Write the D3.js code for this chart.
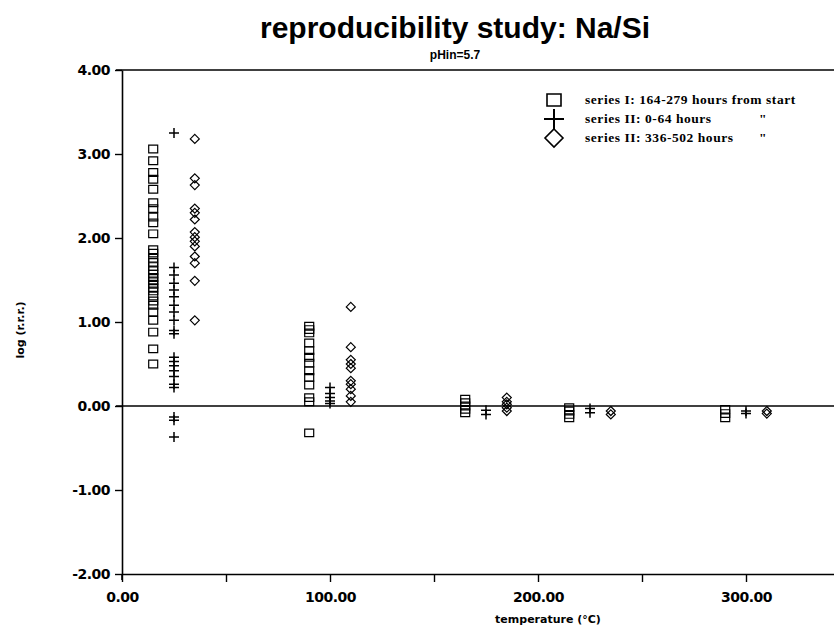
<!DOCTYPE html>
<html>
<head>
<meta charset="utf-8">
<script src="https://cdn.jsdelivr.net/npm/d3@7"></script>
<style>
body { margin: 0; background: #fff; }
</style>
</head>
<body>
<script>
// data (temperature in C, log r.r.r.)
const series_I_temps = [15, 90, 165, 215, 290]
const series_I_values = [
    [3.06, 2.92, 2.78, 2.70, 2.58, 2.42, 2.35, 2.25, 2.18, 2.05, 1.86, 1.82, 1.76, 1.71, 1.66, 1.61, 1.57, 1.53, 1.49, 1.45, 1.41, 1.37, 1.31, 1.25, 1.20, 1.12, 1.02, 0.88, 0.68, 0.50],
    [0.95, 0.91, 0.87, 0.75, 0.66, 0.58, 0.51, 0.42, 0.34, 0.25, 0.10, 0.05, -0.32],
    [0.08, 0.04, 0.00, -0.04, -0.08],
    [-0.02, -0.06, -0.10, -0.14],
    [-0.04, -0.09, -0.14]
]
const series_II_temps = [25, 100, 175, 225, 300]
const series_II_values = [
    [3.25, 1.65, 1.56, 1.46, 1.38, 1.30, 1.20, 1.12, 1.02, 0.90, 0.86, 0.58, 0.53, 0.48, 0.42, 0.35, 0.26, 0.22, -0.13, -0.17, -0.37],
    [0.22, 0.15, 0.10, 0.06, 0.03],
    [-0.05, -0.10],
    [-0.03, -0.08],
    [-0.06, -0.09]
]
const series_III_temps = [35, 110, 185, 235, 310]
const series_III_values = [
    [3.18, 2.71, 2.63, 2.35, 2.30, 2.22, 2.07, 2.01, 1.96, 1.90, 1.78, 1.70, 1.49, 1.02],
    [1.18, 0.70, 0.55, 0.50, 0.45, 0.30, 0.26, 0.20, 0.12, 0.05],
    [0.10, 0.05, 0.02, -0.02, -0.06],
    [-0.06, -0.10],
    [-0.06, -0.09]
]
const y_ticks = [-2, -1, 0, 1, 2, 3, 4]
const x_ticks = [0, 50, 100, 150, 200, 250, 300, 350]
const legend_labels = [
    'series I: 164-279 hours from start',
    'series II: 0-64 hours',
    'series II: 336-502 hours'
]

const width = 834, height = 640
const sans = "'DejaVu Sans', sans-serif"
const serif = "'Liberation Serif', serif"

function flatten(temps, values) {
    return temps.flatMap((t, i) => values[i].map(v => ({'t': t, 'v': v})))
}

const svg = d3.select('body').append('svg')
    .attr('width', width)
    .attr('height', height)
    .style('background', '#fff')

const x = d3.scaleLinear().domain([0, 350]).range([122, 850])
const y = d3.scaleLinear().domain([-2, 4]).range([574, 70])

// titles
svg.append('text')
    .text('reproducibility study: Na/Si')
    .attr('x', 455).attr('y', 38)
    .attr('text-anchor', 'middle')
    .style('font-family', "'Liberation Sans Narrow', 'Liberation Sans', sans-serif")
    .style('font-weight', 'bold')
    .style('font-size', '30px')
svg.append('text')
    .text('pHin=5.7')
    .attr('x', 455).attr('y', 59)
    .attr('text-anchor', 'middle')
    .style('font-family', "'Liberation Sans Narrow', 'Liberation Sans', sans-serif")
    .style('font-weight', 'bold')
    .style('font-size', '12px')

// frame: top line, zero line
svg.append('line')
    .attr('x1', x(0) - 6).attr('x2', width)
    .attr('y1', y(4)).attr('y2', y(4))
    .attr('stroke', '#000').attr('stroke-width', 1.6)
svg.append('line')
    .attr('x1', x(0) - 6).attr('x2', width)
    .attr('y1', y(0)).attr('y2', y(0))
    .attr('stroke', '#000').attr('stroke-width', 1.6)

// axes
const y_axis = svg.append('g')
    .attr('transform', `translate(${x(0)},0)`)
    .call(d3.axisLeft(y).tickValues(y_ticks).tickFormat(d => d.toFixed(2)).tickSize(7).tickSizeOuter(0))
const x_axis = svg.append('g')
    .attr('transform', `translate(0,${y(-2)})`)
    .call(d3.axisBottom(x).tickValues(x_ticks).tickFormat(d => d % 100 === 0 ? d.toFixed(2) : '').tickSize(8).tickSizeOuter(0))

for (const ax of [y_axis, x_axis]) {
    ax.select('.domain').attr('stroke-width', 1.6)
    ax.selectAll('line').attr('stroke-width', 1.4)
    ax.selectAll('text')
        .style('font-family', sans)
        .style('font-weight', 'bold')
        .style('font-size', '14px')
        .style('letter-spacing', '-0.5px')
        .attr('fill', '#000')
}
y_axis.selectAll('text').attr('x', -12)
x_axis.selectAll('text').attr('y', 18)
// y axis runs slightly past the x axis
svg.append('line')
    .attr('x1', x(0)).attr('x2', x(0))
    .attr('y1', y(-2)).attr('y2', y(-2) + 6)
    .attr('stroke', '#000').attr('stroke-width', 1.6)

svg.append('text')
    .text('log (r.r.r.)')
    .attr('transform', 'translate(24,330) rotate(-90)')
    .attr('text-anchor', 'middle')
    .style('font-family', sans)
    .style('font-weight', 'bold')
    .style('font-size', '11px')
svg.append('text')
    .text('temperature (°C)')
    .attr('x', 548).attr('y', 623)
    .attr('text-anchor', 'middle')
    .style('font-family', sans)
    .style('font-weight', 'bold')
    .style('font-size', '11px')

// markers
const marks = svg.append('g')
    .attr('fill', 'none')
    .attr('stroke', '#000')
    .attr('stroke-width', 1.2)

function square_path(s) { const h = s / 2; return `M${-h},${-h * 0.85}H${h}V${h * 0.85}H${-h}Z` }
function plus_path(s) { const h = s / 2; return `M${-h},0H${h}M0,${-h}V${h}` }
function diamond_path(s) { const h = s / 2; return `M0,${-h}L${h},0L0,${h}L${-h},0Z` }

marks.selectAll('.sq')
    .data(flatten(series_I_temps, series_I_values))
    .enter().append('path')
    .attr('class', 'sq')
    .attr('d', square_path(9))
    .attr('transform', d => `translate(${x(d.t)},${y(d.v)})`)
marks.selectAll('.pl')
    .data(flatten(series_II_temps, series_II_values))
    .enter().append('path')
    .attr('class', 'pl')
    .attr('d', plus_path(10))
    .attr('stroke-width', 1.5)
    .attr('transform', d => `translate(${x(d.t)},${y(d.v)})`)
marks.selectAll('.dm')
    .data(flatten(series_III_temps, series_III_values))
    .enter().append('path')
    .attr('class', 'dm')
    .attr('d', diamond_path(9))
    .attr('transform', d => `translate(${x(d.t)},${y(d.v)})`)

// legend
const legend = svg.append('g').attr('transform', 'translate(554,0)')
const legend_shapes = [square_path(14), plus_path(20), diamond_path(18)]
const legend_rows = [100, 119, 138]
legend.selectAll('path')
    .data(legend_shapes)
    .enter().append('path')
    .attr('d', d => d)
    .attr('transform', (_, i) => `translate(0,${legend_rows[i]})`)
    .attr('fill', 'none')
    .attr('stroke', '#000')
    .attr('stroke-width', (_, i) => i === 1 ? 2 : 1.6)
legend.selectAll('text.lab')
    .data(legend_labels)
    .enter().append('text')
    .attr('class', 'lab')
    .text(d => d)
    .attr('x', 31)
    .attr('y', (_, i) => legend_rows[i] + 4)
    .style('font-family', serif)
    .style('font-weight', 'bold')
    .style('font-size', '13.5px')
    .style('letter-spacing', '0.55px')
legend.selectAll('text.ditto')
    .data([1, 2])
    .enter().append('text')
    .attr('class', 'ditto')
    .text('"')
    .attr('x', 205)
    .attr('y', d => legend_rows[d] + 4)
    .style('font-family', serif)
    .style('font-weight', 'bold')
    .style('font-size', '13.5px')
</script>
</body>
</html>
